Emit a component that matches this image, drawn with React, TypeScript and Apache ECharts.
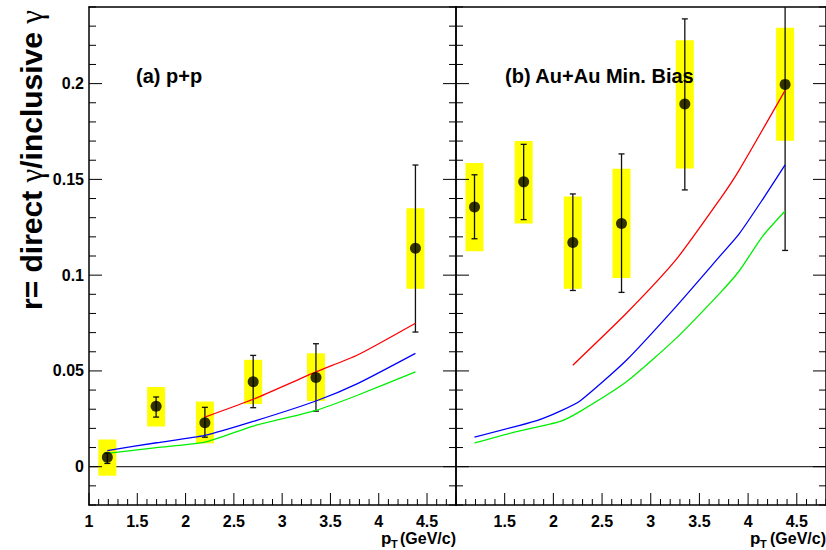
import React, { useEffect, useRef } from "react";
import * as echarts from "echarts";

// pT bin centres (GeV/c)
const ptX = [1.19, 1.695, 2.2, 2.7, 3.35, 4.38];

// (a) p+p
const ppR = [0.0049, 0.0315, 0.0229, 0.0443, 0.0466, 0.1141];
const ppStatLo = [0.0017, 0.0259, 0.0154, 0.0308, 0.029, 0.0703];
const ppStatHi = [0.007, 0.0364, 0.031, 0.0581, 0.0642, 0.1575];
const ppSysLo = [-0.0047, 0.021, 0.0122, 0.0327, 0.0343, 0.0929];
const ppSysHi = [0.0142, 0.0416, 0.034, 0.0558, 0.0592, 0.1349];

// (b) Au+Au Min. Bias
const auR = [0.1356, 0.1487, 0.117, 0.127, 0.1893, 0.1996];
const auStatLo = [0.119, 0.129, 0.092, 0.091, 0.1445, 0.1129];
const auStatHi = [0.1524, 0.1683, 0.1424, 0.1633, 0.2338, 0.2863];
const auSysLo = [0.1125, 0.127, 0.0929, 0.0985, 0.1557, 0.1702];
const auSysHi = [0.1585, 0.17, 0.141, 0.1555, 0.2227, 0.2292];

// theory curves (x, r)
const ppRed = [[2.2, 0.0259], [2.7, 0.0352], [3.35, 0.0495], [3.78, 0.0583], [4.38, 0.0749]];
const ppBlue = [[1.19, 0.0084], [1.7, 0.0125], [2.2, 0.0163], [2.7, 0.0236], [3.35, 0.0343], [3.78, 0.0434], [4.38, 0.0592]];
const ppGreen = [[1.19, 0.007], [1.7, 0.01], [2.2, 0.0128], [2.7, 0.0212], [3.35, 0.0294], [3.78, 0.0373], [4.38, 0.0495]];
const auRed = [[2.2, 0.053], [2.75, 0.0801], [3.26, 0.1081], [3.71, 0.1396], [3.91, 0.155], [4.38, 0.1965]];
const auBlue = [[1.19, 0.0154], [1.83, 0.0241], [2.07, 0.029], [2.28, 0.0346], [2.75, 0.0556], [3.26, 0.0836], [3.71, 0.1099], [3.91, 0.1217], [4.15, 0.1396], [4.38, 0.1576]];
const auGreen = [[1.19, 0.0124], [1.6, 0.018], [2.07, 0.0236], [2.28, 0.029], [2.75, 0.0443], [3.26, 0.067], [3.71, 0.0906], [3.91, 0.1023], [4.15, 0.1204], [4.38, 0.1335]];

// axes
const X_MIN = 1;
const X_MAX = 4.8;
const Y_MIN = -0.02;
const Y_MAX = 0.24;
const xLabelsLeft = [1, 1.5, 2, 2.5, 3, 3.5, 4, 4.5];
const xLabelsRight = [1.5, 2, 2.5, 3, 3.5, 4, 4.5];
const yLabels = [0, 0.05, 0.1, 0.15, 0.2];
const X_MINOR_STEP = 0.1;
const X_MAJOR_EVERY = 5; // every 5th minor tick is major (0.5)
const Y_MINOR_STEP = 0.01;
const Y_MAJOR_EVERY = 5; // 0.05

const FONT = "Liberation Sans";
const LINE = { color: "#000", width: 1.5 };

// tick positions [value, isMajor]
const xTicks: number[][] = [];
for (let i = 0; X_MIN + i * X_MINOR_STEP <= X_MAX + 1e-9; i++) {
  xTicks.push([Math.round((X_MIN + i * X_MINOR_STEP) * 1000) / 1000, i % X_MAJOR_EVERY === 0 ? 1 : 0]);
}
const yTicks: number[][] = [];
for (let i = 0; Y_MIN + i * Y_MINOR_STEP <= Y_MAX + 1e-9; i++) {
  const v = Math.round((Y_MIN + i * Y_MINOR_STEP) * 1000) / 1000;
  yTicks.push([v, Math.round(v * 1000) % 50 === 0 ? 1 : 0]);
}

function xAxes(gi: number, labels: number[]) {
  return [
    {
      gridIndex: gi, type: "value", min: X_MIN, max: X_MAX, position: "bottom",
      axisLine: { show: true, onZero: false, lineStyle: LINE },
      axisTick: { show: false },
      axisLabel: {
        show: true, customValues: labels, margin: 8, color: "#000",
        fontFamily: FONT, fontWeight: "bold", fontSize: 16,
        formatter: (v: number) => String(v),
      },
      splitLine: { show: false },
    },
    {
      gridIndex: gi, type: "value", min: X_MIN, max: X_MAX, position: "top",
      axisLine: { show: true, onZero: false, lineStyle: LINE },
      axisTick: { show: false }, axisLabel: { show: false }, splitLine: { show: false },
    },
  ];
}

function yAxes(gi: number, withLabels: boolean) {
  const mk = (pos: string, labels: boolean) => ({
    gridIndex: gi, type: "value", min: Y_MIN, max: Y_MAX, position: pos,
    axisLine: { show: true, onZero: false, lineStyle: LINE },
    axisTick: { show: false },
    axisLabel: labels
      ? { show: true, customValues: yLabels, margin: 5, color: "#000", fontFamily: FONT, fontWeight: "bold", fontSize: 16, formatter: (v: number) => String(v) }
      : { show: false },
    splitLine: { show: false },
  });
  return [mk("left", withLabels), mk("right", false)];
}

function panelSeries(
  gi: number,
  r: number[], statLo: number[], statHi: number[], sysLo: number[], sysHi: number[],
  red: number[][], blue: number[][], green: number[][]
) {
  const xi = gi * 2;
  const yi = gi * 2;
  const boxData = ptX.map((x, i) => [x, sysLo[i], sysHi[i]]);
  const errData = ptX.map((x, i) => [x, statLo[i], statHi[i]]);
  const line = (data: number[][], color: string) => ({
    type: "line", xAxisIndex: xi, yAxisIndex: yi, data, smooth: 0.2, showSymbol: false,
    lineStyle: { color, width: 1.3 }, z: 4, silent: true,
  });
  const tickSt = { stroke: "#000", lineWidth: 1 };
  return [
    // y ticks on both sides of the frame
    {
      type: "custom", xAxisIndex: xi, yAxisIndex: yi, data: yTicks, z: 6, silent: true,
      renderItem: (_p: any, api: any) => {
        const v = api.value(0);
        const len = api.value(1) ? 13 : 7;
        const a = api.coord([X_MIN, v]);
        const b = api.coord([X_MAX, v]);
        return {
          type: "group", children: [
            { type: "line", shape: { x1: a[0], y1: a[1], x2: a[0] + len, y2: a[1] }, style: tickSt },
            { type: "line", shape: { x1: b[0] - len, y1: b[1], x2: b[0], y2: b[1] }, style: tickSt },
          ],
        };
      },
    },
    // x ticks on the bottom
    {
      type: "custom", xAxisIndex: xi, yAxisIndex: yi, data: xTicks, z: 6, silent: true,
      renderItem: (_p: any, api: any) => {
        const v = api.value(0);
        const len = api.value(1) ? 12 : 6;
        const a = api.coord([v, Y_MIN]);
        return { type: "line", shape: { x1: a[0], y1: a[1], x2: a[0], y2: a[1] - len }, style: tickSt };
      },
    },
    {
      type: "line", xAxisIndex: xi, yAxisIndex: yi, data: [[X_MIN, 0], [X_MAX, 0]], showSymbol: false,
      lineStyle: { color: "#333", width: 1.3 }, z: 1, silent: true,
    },
    {
      type: "custom", xAxisIndex: xi, yAxisIndex: yi, data: boxData, z: 2,
      encode: { x: 0, y: [1, 2] },
      renderItem: (_p: any, api: any) => {
        const x = api.value(0);
        const lo = Math.max(api.value(1), Y_MIN);
        const hi = Math.min(api.value(2), Y_MAX);
        const a = api.coord([x, hi]);
        const b = api.coord([x, lo]);
        return { type: "rect", shape: { x: a[0] - 9, y: a[1], width: 18, height: b[1] - a[1] }, style: { fill: "#ffff00" } };
      },
    },
    {
      type: "custom", xAxisIndex: xi, yAxisIndex: yi, data: errData, z: 3,
      encode: { x: 0, y: [1, 2] },
      renderItem: (_p: any, api: any) => {
        const x = api.value(0);
        const loV = api.value(1);
        const hiV = api.value(2);
        const clipped = hiV > Y_MAX;
        const a = api.coord([x, Math.min(hiV, Y_MAX)]);
        const b = api.coord([x, Math.max(loV, Y_MIN)]);
        const st = { stroke: "#111", lineWidth: 1.3 };
        const children: any[] = [
          { type: "line", shape: { x1: a[0], y1: a[1], x2: b[0], y2: b[1] }, style: st },
          { type: "line", shape: { x1: b[0] - 3, y1: b[1], x2: b[0] + 3, y2: b[1] }, style: st },
        ];
        if (!clipped) children.push({ type: "line", shape: { x1: a[0] - 3, y1: a[1], x2: a[0] + 3, y2: a[1] }, style: st });
        return { type: "group", children };
      },
    },
    line(red, "#ff0000"),
    line(blue, "#0000ff"),
    line(green, "#00ee00"),
    {
      type: "scatter", xAxisIndex: xi, yAxisIndex: yi, data: ptX.map((x, i) => [x, r[i]]),
      symbol: "circle", symbolSize: 11, itemStyle: { color: "#000" }, z: 5, silent: true,
    },
  ];
}

export default function App() {
  const ref = useRef<HTMLDivElement>(null);
  useEffect(() => {
    document.body.style.margin = "0";
    if (!ref.current) return;
    const chart = echarts.init(ref.current, undefined, { renderer: "svg" });
    const titleText = (x: number, right: number) => [
      { type: "text", x, y: 538, style: { text: "p", fontFamily: FONT, fontWeight: "bold", fontSize: 17, fill: "#000", align: "left", verticalAlign: "middle" } },
      { type: "text", x: x + 10, y: 544, style: { text: "T", fontFamily: FONT, fontWeight: "bold", fontSize: 11, fill: "#000", align: "left", verticalAlign: "middle" } },
      { type: "text", x: right, y: 538, style: { text: "(GeV/c)", fontFamily: FONT, fontWeight: "bold", fontSize: 16, fill: "#000", align: "right", verticalAlign: "middle" } },
    ];
    chart.setOption({
      animation: false,
      backgroundColor: "#fff",
      textStyle: { fontFamily: FONT },
      grid: [
        { left: 89, top: 7, width: 367, height: 498, show: false },
        { left: 456, top: 7, width: 372, height: 498, show: false },
      ],
      xAxis: [...xAxes(0, xLabelsLeft), ...xAxes(1, xLabelsRight)],
      yAxis: [...yAxes(0, true), ...yAxes(1, false)],
      series: [
        ...panelSeries(0, ppR, ppStatLo, ppStatHi, ppSysLo, ppSysHi, ppRed, ppBlue, ppGreen),
        ...panelSeries(1, auR, auStatLo, auStatHi, auSysLo, auSysHi, auRed, auBlue, auGreen),
      ],
      graphic: [
        {
          type: "text", x: 31, y: 10, rotation: Math.PI / 2, z: 10,
          style: {
            text: "{b|r= direct }{g|γ}{b|/inclusive }{g|γ}",
            align: "right", verticalAlign: "middle", fill: "#000",
            rich: {
              b: { fontFamily: FONT, fontWeight: "bold", fontSize: 30, fill: "#000" },
              g: { fontFamily: "Liberation Serif", fontWeight: "normal", fontSize: 31, fill: "#000" },
            },
          },
        },
        { type: "text", x: 136, y: 76, z: 10, style: { text: "(a) p+p", fontFamily: FONT, fontWeight: "bold", fontSize: 20, fill: "#000", verticalAlign: "middle" } },
        { type: "text", x: 505, y: 76, z: 10, style: { text: "(b) Au+Au Min. Bias", fontFamily: FONT, fontWeight: "bold", fontSize: 20, fill: "#000", verticalAlign: "middle" } },
        ...titleText(381, 456),
        ...titleText(750, 826),
      ],
    });
    return () => chart.dispose();
  }, []);
  return <div ref={ref} style={{ width: 826, height: 550 }} />;
}
